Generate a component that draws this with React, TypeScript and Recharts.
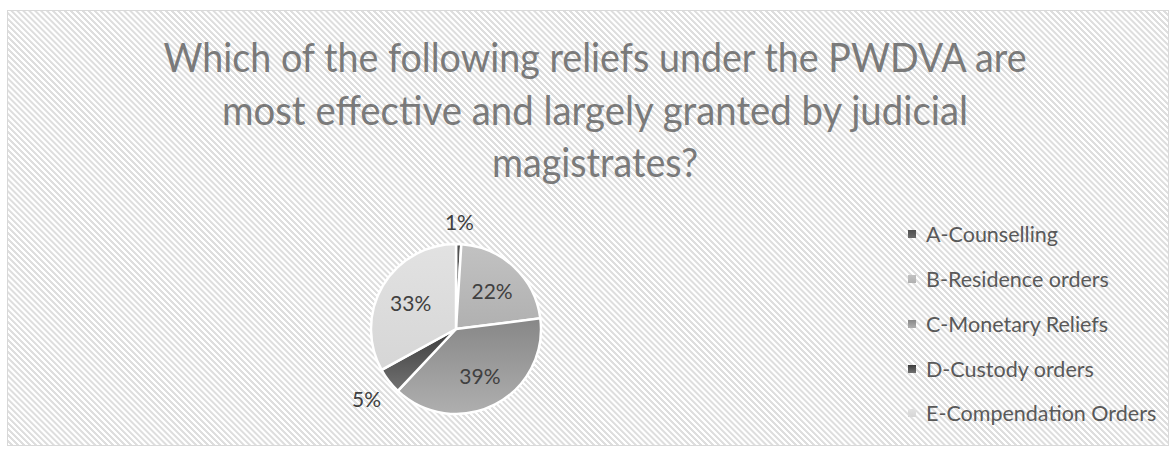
import { PieChart, Pie, Cell, Legend } from 'recharts';

const categories = [
  'A-Counselling',
  'B-Residence orders',
  'C-Monetary Reliefs',
  'D-Custody orders',
  'E-Compendation Orders',
];
const shares = [1, 22, 39, 5, 33];
const titleLines = [
  'Which of the following reliefs under the PWDVA are',
  'most effective and largely granted by judicial',
  'magistrates?',
];
// gradient stops (top, bottom) for each slice
const sliceTop = ['#4f4f4f', '#c2c2c2', '#878787', '#3c3c3c', '#e2e2e2'];
const sliceBottom = ['#6a6a6a', '#b0b0b0', '#afafaf', '#727272', '#d6d6d6'];

const data = categories.map((name, i) => ({ name, value: shares[i] }));

const RAD = Math.PI / 180;
const FONT = 'Lato, "Open Sans", sans-serif';

function renderLabel(props: any) {
  const { cx, cy, midAngle, outerRadius, percent } = props;
  const txt = `${Math.round(percent * 100)}%`;
  const ux = Math.cos(-midAngle * RAD);
  const uy = Math.sin(-midAngle * RAD);
  let r;
  if (percent > 0.1) {
    r = outerRadius * 0.62;
  } else {
    const hw = txt.length * 6;
    const hh = 10;
    const t = Math.min(hw / Math.max(Math.abs(ux), 0.01), hh / Math.max(Math.abs(uy), 0.01));
    r = outerRadius + 13 + t;
  }
  return (
    <text
      x={cx + r * ux}
      y={cy + r * uy}
      textAnchor="middle"
      dominantBaseline="central"
      fill="#404040"
      fontSize={21}
      fontFamily={FONT}
    >
      {txt}
    </text>
  );
}

function LegendBox() {
  return (
    <div style={{ fontFamily: FONT }}>
      {categories.map((c, i) => (
        <div key={c} style={{ display: 'flex', alignItems: 'center', height: 44.75 }}>
          <div
            style={{
              width: 8,
              height: 8,
              marginRight: 10,
              background: `linear-gradient(${sliceTop[i]}, ${sliceBottom[i]})`,
            }}
          />
          <span style={{ fontSize: 21.5, color: '#595959', whiteSpace: 'nowrap' }}>{c}</span>
        </div>
      ))}
    </div>
  );
}

export default function App() {
  return (
    <div
      style={{
        position: 'absolute',
        left: 0,
        top: 0,
        width: 1176,
        height: 450,
        background: '#fff',
      }}
    >
      <div
        style={{
          position: 'absolute',
          left: 7,
          top: 10,
          width: 1162,
          height: 436,
          boxSizing: 'border-box',
          border: '1.5px solid #d9d9d9',
          background:
            'repeating-linear-gradient(45deg, #ffffff 0px, #ffffff 1.6px, #dedede 2.1px, #dedede 3.6px, #ffffff 4.2px)',
        }}
      />
      <svg
        width={1176}
        height={200}
        style={{ position: 'absolute', left: 0, top: 0 }}
      >
        {titleLines.map((l, i) => (
          <text
            key={i}
            x={595}
            y={72 + i * 52.5}
            textAnchor="middle"
            fontSize={41}
            fontFamily={FONT}
            fill="#7a7a7a"
            textLength={[863, 746, 206][i]}
            lengthAdjust="spacingAndGlyphs"
          >
            {l}
          </text>
        ))}
      </svg>
      <div style={{ position: 'absolute', left: 0, top: 0 }}>
        <PieChart width={1176} height={450}>
          <defs>
            {sliceTop.map((c, i) => (
              <linearGradient key={i} id={`g${i}`} x1="0" y1="0" x2="0" y2="1">
                <stop offset="0%" stopColor={c} />
                <stop offset="100%" stopColor={sliceBottom[i]} />
              </linearGradient>
            ))}
          </defs>
          <Pie
            data={data}
            dataKey="value"
            nameKey="name"
            cx={451}
            cy={324}
            outerRadius={85}
            startAngle={90}
            endAngle={-270}
            stroke="#ffffff"
            strokeWidth={2.5}
            label={renderLabel}
            labelLine={false}
            isAnimationActive={false}
          >
            {data.map((d, i) => (
              <Cell key={d.name} fill={`url(#g${i})`} />
            ))}
          </Pie>
          <Legend
            layout="vertical"
            align="right"
            verticalAlign="top"
            content={() => <LegendBox />}
            wrapperStyle={{ left: 908, top: 212, width: 268 }}
          />
        </PieChart>
      </div>
    </div>
  );
}
